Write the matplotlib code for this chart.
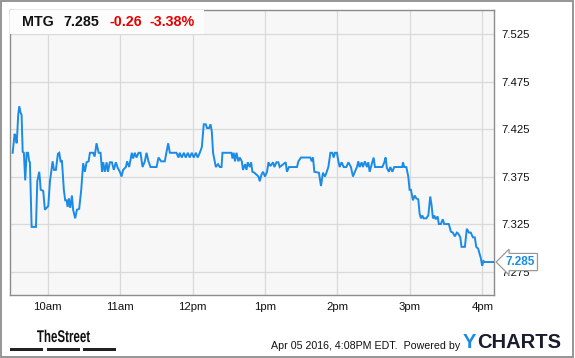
import matplotlib.pyplot as plt
import matplotlib.transforms as mtransforms
from matplotlib.patches import Rectangle, PathPatch
from matplotlib.textpath import TextPath
from matplotlib.font_manager import FontProperties

plt.rcParams['font.family'] = ['Liberation Sans', 'DejaVu Sans']

# minutes after 9:30 open, and MTG price
minutes = [1.0, 2.6, 3.7, 4.3, 4.8, 5.6, 6.5, 7.6, 8.4, 9.3, 10.3, 11.4, 12.6, 13.7, 14.7, 15.3,
           16.7, 20.3, 21.4, 23.0, 23.6, 24.2, 26.3, 27.7, 29.1, 30.5, 31.9, 34.1, 35.2, 36.8,
           38.5, 39.6, 40.7, 41.8, 43.4, 44.5, 45.7, 46.5, 47.6, 48.7, 50.1, 51.1, 52.8, 54.2,
           56.1, 57.8, 59.4, 60.8, 62.2, 63.9, 65.0, 67.7, 68.9, 70.5, 72.2, 73.8, 75.1, 76.0,
           77.4, 78.8, 79.9, 81.5, 83.2, 84.8, 86.5, 88.1, 89.8, 91.2, 92.5, 94.8, 95.8, 97.5,
           99.7, 100.8, 102.2, 103.6, 105.3, 106.9, 108.6, 110.5, 111.9, 113.5, 115.2, 120.2,
           121.8, 124.0, 127.0, 129.8, 131.2, 136.7, 138.4, 139.4, 141.1, 142.8, 144.4, 146.1,
           147.7, 149.4, 151.0, 152.7, 154.3, 156.0, 157.7, 159.3, 161.0, 162.0, 163.7, 164.9,
           166.0, 167.0, 168.2, 169.3, 171.1, 172.6, 174.0, 174.8, 182.2, 183.1, 184.1, 185.2,
           186.4, 188.0, 189.1, 190.8, 191.8, 193.5, 194.7, 195.7, 197.4, 198.5, 199.6, 201.3,
           202.9, 204.6, 205.7, 207.1, 208.4, 210.0, 211.7, 212.9, 214.5, 216.7, 217.8, 219.5,
           221.1, 222.2, 227.2, 228.2, 229.9, 236.5, 237.7, 239.8, 247.6, 248.7, 249.8, 250.9,
           254.7, 256.4, 258.0, 259.7, 260.9, 262.5, 264.2, 265.8, 266.9, 268.0, 269.6, 270.8,
           271.9, 273.5, 275.2, 277.4, 279.1, 281.2, 282.9, 284.5, 286.2, 287.3, 288.4, 290.1,
           291.1, 292.8, 294.5, 295.6, 296.7, 298.9, 300.0, 301.1, 307.2, 308.9, 309.9, 311.0,
           312.7, 313.8, 315.5, 317.1, 323.7, 324.3, 325.4, 327.1, 328.7, 329.8, 330.9, 332.6,
           334.0, 335.4, 337.0, 338.1, 339.2, 340.3, 341.4, 343.6, 345.3, 346.9, 348.0, 349.1,
           350.3, 351.3, 353.0, 354.0, 355.7, 357.3, 358.5, 362.3, 364.0, 365.6, 367.3, 368.9,
           370.1, 371.8, 372.8, 375.6, 377.2, 378.9, 380.5, 382.2, 383.8, 385.0, 386.6, 388.8,
           389.9, 391.0, 392.1, 399.3]
prices = [7.400, 7.420, 7.415, 7.410, 7.420, 7.440, 7.449, 7.442, 7.440, 7.401, 7.400, 7.371,
          7.400, 7.400, 7.391, 7.390, 7.322, 7.322, 7.370, 7.380, 7.372, 7.361, 7.360, 7.340,
          7.342, 7.344, 7.370, 7.391, 7.382, 7.382, 7.399, 7.400, 7.391, 7.392, 7.361, 7.350,
          7.350, 7.343, 7.352, 7.342, 7.355, 7.340, 7.331, 7.340, 7.341, 7.361, 7.389, 7.380,
          7.390, 7.391, 7.400, 7.400, 7.396, 7.410, 7.400, 7.400, 7.380, 7.390, 7.380, 7.390,
          7.380, 7.390, 7.390, 7.382, 7.390, 7.384, 7.380, 7.375, 7.382, 7.385, 7.391, 7.385,
          7.400, 7.394, 7.400, 7.395, 7.400, 7.400, 7.385, 7.391, 7.400, 7.391, 7.385, 7.385,
          7.395, 7.391, 7.391, 7.410, 7.400, 7.400, 7.395, 7.400, 7.395, 7.400, 7.395, 7.400,
          7.395, 7.400, 7.395, 7.400, 7.395, 7.400, 7.406, 7.430, 7.430, 7.426, 7.426, 7.430,
          7.422, 7.400, 7.392, 7.385, 7.388, 7.385, 7.385, 7.400, 7.400, 7.394, 7.400, 7.391,
          7.400, 7.391, 7.395, 7.391, 7.382, 7.388, 7.382, 7.390, 7.385, 7.390, 7.380, 7.379,
          7.377, 7.375, 7.370, 7.377, 7.380, 7.375, 7.380, 7.390, 7.386, 7.390, 7.385, 7.390,
          7.390, 7.385, 7.390, 7.380, 7.385, 7.385, 7.391, 7.395, 7.395, 7.391, 7.395, 7.380,
          7.379, 7.365, 7.379, 7.375, 7.379, 7.385, 7.400, 7.400, 7.395, 7.400, 7.400, 7.391,
          7.385, 7.390, 7.385, 7.385, 7.390, 7.385, 7.375, 7.380, 7.385, 7.391, 7.385, 7.390,
          7.385, 7.391, 7.385, 7.390, 7.380, 7.390, 7.395, 7.385, 7.385, 7.390, 7.395, 7.384,
          7.380, 7.385, 7.380, 7.385, 7.385, 7.390, 7.385, 7.385, 7.375, 7.361, 7.361, 7.350,
          7.355, 7.352, 7.351, 7.336, 7.331, 7.334, 7.331, 7.331, 7.334, 7.354, 7.345, 7.331,
          7.334, 7.330, 7.333, 7.325, 7.325, 7.330, 7.325, 7.325, 7.317, 7.316, 7.312, 7.316,
          7.315, 7.311, 7.301, 7.301, 7.320, 7.316, 7.316, 7.311, 7.311, 7.301, 7.299, 7.289,
          7.281, 7.286, 7.285, 7.285]

hour_ticks = [30, 90, 150, 210, 270, 330, 390]
hour_labels = ['10am', '11am', '12pm', '1pm', '2pm', '3pm', '4pm']
price_ticks = [7.275, 7.325, 7.375, 7.425, 7.475, 7.525]

last_price = '7.285'
change = '-0.26'
pct_change = '-3.38%'

line_blue = '#1a8be6'
frame_grey = '#8c8c8c'

fig = plt.figure(figsize=(5.75, 3.58), dpi=100)
fig.patch.set_facecolor('white')
fig.add_artist(Rectangle((0.002, 0.004), 0.995, 0.992, transform=fig.transFigure,
                         fill=False, edgecolor=frame_grey, linewidth=1.3))

ax = fig.add_axes([10 / 575, 1 - 295 / 358, 483.5 / 575, 285 / 358])
ax.set_facecolor('#f7f7f7')
ax.plot(minutes, prices, color=line_blue, linewidth=1.4, solid_joinstyle='miter', zorder=3)

ax.set_xlim(-1.2, 399.3)
ax.set_ylim(7.2503, 7.5503)
ax.set_xticks(hour_ticks)
ax.set_xticklabels(hour_labels)
ax.set_yticks(price_ticks)
ax.set_yticklabels(['%.3f' % p for p in price_ticks])
ax.yaxis.tick_right()
ax.tick_params(length=0, labelsize=8.2, colors='#111111')
ax.tick_params(axis='y', pad=6)
ax.tick_params(axis='x', pad=5)
ax.grid(True, color='#d9d9d9', linewidth=0.9, zorder=0)
for s in ax.spines.values():
    s.set_color(frame_grey)
    s.set_linewidth(1.0)

# quote header box
ax.add_patch(Rectangle((0, 1 - 23.5 / 285), 194 / 483.5, 23.5 / 285, transform=ax.transAxes,
                       facecolor='#fcfcfc', edgecolor='none', zorder=4))
hy = 1 - 12.5 / 285
ax.text(12 / 483.5, hy, 'MTG', transform=ax.transAxes, fontsize=10.3, fontweight='bold',
        color='#111111', va='center', zorder=5)
ax.text(53 / 483.5, hy, last_price, transform=ax.transAxes, fontsize=10.3, fontweight='bold',
        color='#111111', va='center', zorder=5)
ax.text(99 / 483.5, hy, change, transform=ax.transAxes, fontsize=10.3, fontweight='bold',
        color='#e60000', va='center', zorder=5)
ax.text(140 / 483.5, hy, pct_change, transform=ax.transAxes, fontsize=10.3, fontweight='bold',
        color='#e60000', va='center', zorder=5)

# last price callout
trans = mtransforms.blended_transform_factory(ax.transAxes, ax.transData)
ax.text(1 + 12 / 483.5, prices[-1], last_price, transform=trans, fontsize=8.5, fontweight='bold',
        color=line_blue, va='center', ha='left', clip_on=False, zorder=6,
        bbox=dict(boxstyle='larrow,pad=0.22', facecolor='white', edgecolor='#9a9a9a', linewidth=0.9))

# footer: condensed "TheStreet" logo drawn as a squeezed text path (pixel coords)
logo = TextPath((0, 0), 'TheStreet', size=17,
                prop=FontProperties(family='Liberation Sans', weight='bold'))
ext = logo.get_extents()
sx = 53 / ext.width
logo_tr = mtransforms.Affine2D().translate(-ext.x0, 0).scale(sx, 1).translate(37, 358 - 342)
fig.add_artist(PathPatch(logo, transform=logo_tr, facecolor='#111111', edgecolor='none'))
for x0 in [10, 47, 83]:
    fig.add_artist(Rectangle((x0 / 575, 1 - 351 / 358), 33 / 575, 3.5 / 358,
                             transform=fig.transFigure, facecolor='#222222', edgecolor='none'))
fig.text(460 / 575, 1 - 346 / 358, 'Apr 05 2016, 4:08PM EDT.  Powered by', fontsize=7.7,
         color='#111111', va='center', ha='right')
fig.text(463 / 575, 1 - 343 / 358, 'Y', fontsize=14.5, fontweight='bold', color='#1a8be6',
         va='center', ha='left')
fig.text(477 / 575, 1 - 343 / 358, 'CHARTS', fontsize=14.5, fontweight='bold', color='#1b1b2f',
         va='center', ha='left')

fig.savefig('out.png', dpi=100)
